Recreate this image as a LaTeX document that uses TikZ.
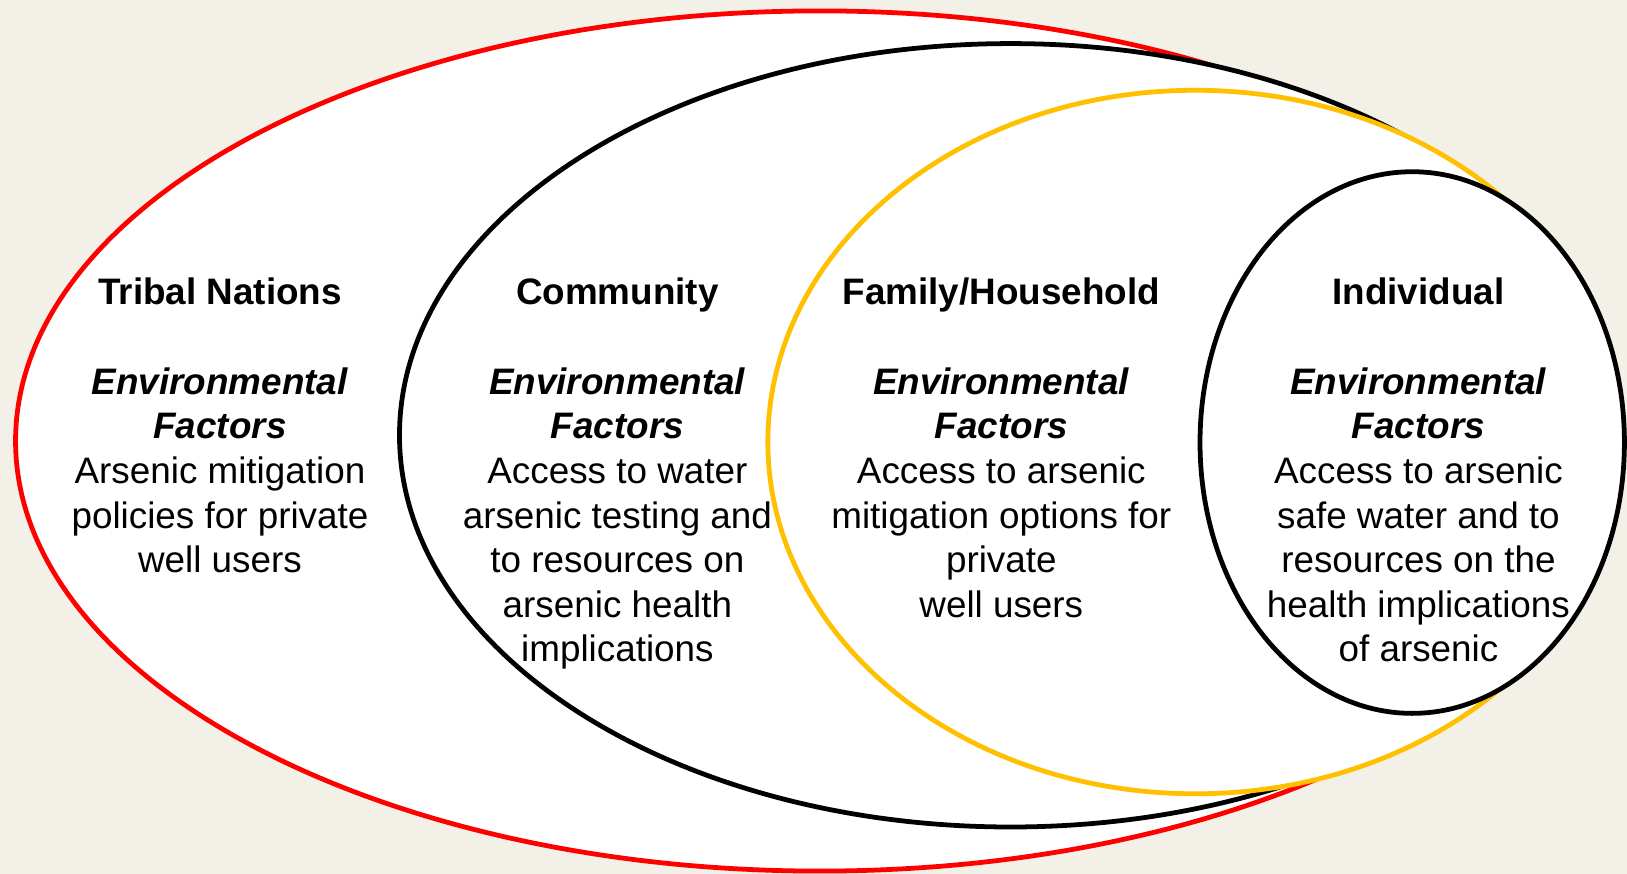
\documentclass[tikz,border=0pt]{standalone}
\usepackage{fontspec}
\setmainfont{Liberation Sans}
\usetikzlibrary{shapes.geometric}
\definecolor{bgbeige}{RGB}{243,241,231}
\definecolor{ringred}{RGB}{255,0,0}
\definecolor{ringgold}{RGB}{255,192,0}
\begin{document}
\begin{tikzpicture}[x=1pt,y=-1pt,
  ring/.style={ellipse, draw, fill=white, line width=4.6pt, inner sep=0pt, outer sep=0pt},
  col/.style={align=center, anchor=north, inner sep=0pt, font=\fontsize{35.5}{43}\selectfont}]
\path[fill=bgbeige,use as bounding box] (0,0) rectangle (1568,842);
\node[ring, draw=ringred, minimum width=1550pt, minimum height=829pt] (tribal) at (790,425) {};
\node[ring, draw=black, minimum width=1178pt, minimum height=755pt] (community) at (974,419.5) {};
\node[ring, draw=ringgold, minimum width=824pt, minimum height=678pt] (family) at (1152,426) {};
\node[ring, draw=black, minimum width=409pt, minimum height=522pt] (individual) at (1361,426.5) {};
\node[col] (ttribal) at (212,268) {\textbf{Tribal Nations}\\[43pt]\textbf{\textit{Environmental}}\\\textbf{\textit{Factors}}\\Arsenic mitigation\\policies for private\\well users};
\node[col] (tcommunity) at (595,268) {\textbf{Community}\\[43pt]\textbf{\textit{Environmental}}\\\textbf{\textit{Factors}}\\Access to water\\arsenic testing and\\to resources on\\arsenic health\\implications};
\node[col] (tfamily) at (965,268) {\textbf{Family/Household}\\[43pt]\textbf{\textit{Environmental}}\\\textbf{\textit{Factors}}\\Access to arsenic\\mitigation options for\\private\\well users};
\node[col] (tindividual) at (1367,268) {\textbf{Individual}\\[43pt]\textbf{\textit{Environmental}}\\\textbf{\textit{Factors}}\\Access to arsenic\\safe water and to\\resources on the\\health implications\\of arsenic};
\end{tikzpicture}
\end{document}
